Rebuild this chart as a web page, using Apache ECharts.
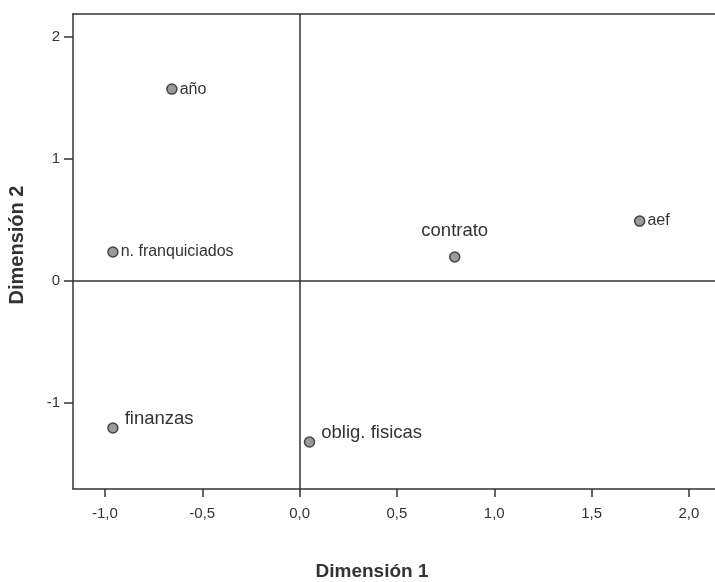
<!DOCTYPE html>
<html>
<head>
<meta charset="utf-8">
<script src="https://cdn.jsdelivr.net/npm/echarts@6/dist/echarts.min.js"></script>
<style>html,body{margin:0;padding:0;background:#fff;}#c{width:715px;height:582px;}</style>
</head>
<body>
<div id="c"></div>
<script>
var names = ['año', 'n. franquiciados', 'contrato', 'aef', 'finanzas', 'oblig. fisicas'];
var dim1 = [-0.656, -0.959, 0.797, 1.747, -0.959, 0.051];
var dim2 = [1.574, 0.238, 0.197, 0.492, -1.205, -1.32];
var xTicks = [-1.0, -0.5, 0.0, 0.5, 1.0, 1.5, 2.0];
var yTicks = [-1, 0, 1, 2];
var xTitle = 'Dimensión 1';
var yTitle = 'Dimensión 2';

var labelPos = ['right', 'right', 'top', 'right', 'topRight', 'topRight'];
var labelSize = [16, 16, 18.5, 16, 18.5, 18.5];
var FONT = 'Liberation Sans, Arial, sans-serif';

var data = names.map(function (n, i) {
  var pos = labelPos[i];
  var lbl = { show: true, formatter: n, fontSize: labelSize[i], color: '#333', fontFamily: FONT };
  if (pos === 'right') { lbl.position = 'right'; lbl.distance = 2; }
  else if (pos === 'top') { lbl.position = 'top'; lbl.distance = 11; }
  else { lbl.position = 'right'; lbl.distance = 6; lbl.offset = [0, -9]; }
  return { value: [dim1[i], dim2[i]], name: n, label: lbl };
});

var chart = echarts.init(document.getElementById('c'));
var axisCol = '#333';
chart.setOption({
  animation: false,
  backgroundColor: '#fff',
  grid: { left: 73, top: 14, right: 0, bottom: 93 },
  xAxis: [{
    type: 'value', min: -1.164, max: 2.134,
    axisLine: { show: true, onZero: false, lineStyle: { color: axisCol, width: 1.5 } },
    axisTick: { show: true, customValues: xTicks, length: 8, lineStyle: { color: axisCol, width: 1.5 } },
    axisLabel: { customValues: xTicks, margin: 17, fontSize: 15, color: '#333', fontFamily: FONT,
      formatter: function (v) { return v.toFixed(1).replace('.', ','); } },
    splitLine: { show: false }
  }, {
    type: 'value', position: 'top', min: -1.164, max: 2.134,
    axisLine: { show: true, onZero: false, lineStyle: { color: axisCol, width: 1.5 } },
    axisTick: { show: false }, axisLabel: { show: false }, splitLine: { show: false }
  }],
  yAxis: {
    type: 'value', min: -1.705, max: 2.19,
    axisLine: { show: true, onZero: false, lineStyle: { color: axisCol, width: 1.5 } },
    axisTick: { show: true, customValues: yTicks, length: 9, lineStyle: { color: axisCol, width: 1.5 } },
    axisLabel: { customValues: yTicks, margin: 13, fontSize: 15, color: '#333', fontFamily: FONT,
      formatter: function (v) { return String(Math.round(v)); } },
    splitLine: { show: false }
  },
  graphic: [
    { type: 'text', x: 372, y: 572, style: { text: xTitle, textAlign: 'center', textVerticalAlign: 'middle', fontSize: 19, fontWeight: 'bold', fill: '#333', fontFamily: FONT } },
    { type: 'text', rotation: Math.PI / 2, x: 17, y: 245, style: { text: yTitle, textAlign: 'center', textVerticalAlign: 'middle', fontSize: 20, fontWeight: 'bold', fill: '#333', fontFamily: FONT } }
  ],
  series: [{
    type: 'scatter',
    symbol: 'circle',
    symbolSize: 10,
    itemStyle: { color: '#9a9a9a', borderColor: '#444', borderWidth: 1.5, opacity: 1 },
    data: data,
    markLine: {
      silent: true, symbol: 'none', label: { show: false },
      lineStyle: { color: axisCol, width: 1.5, type: 'solid' },
      data: [{ xAxis: 0 }, { yAxis: 0 }]
    }
  }]
});
</script>
</body>
</html>
